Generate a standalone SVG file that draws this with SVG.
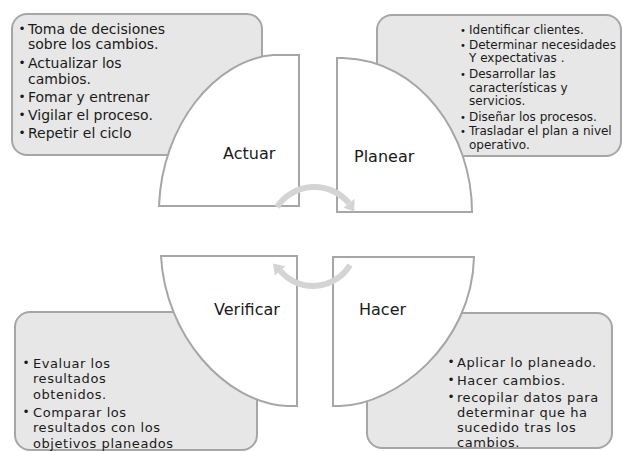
<svg xmlns="http://www.w3.org/2000/svg" width="623" height="451" viewBox="0 0 623 451">
<style>
.box{fill:#e7e7e7;stroke:#a6a6a6;stroke-width:2}
.quad{fill:#ffffff;stroke:#a6a6a6;stroke-width:2;stroke-linejoin:miter}
.t14{font-family:"DejaVu Sans",Verdana,sans-serif;font-size:14px;fill:#1a1a1a}
.t13{font-family:"DejaVu Sans",Verdana,sans-serif;font-size:13px;letter-spacing:0.55px;fill:#1a1a1a}
.t12{font-family:"DejaVu Sans",Verdana,sans-serif;font-size:12px;fill:#1a1a1a}
.b{font-family:"DejaVu Sans",Verdana,sans-serif;font-size:12px;fill:#1a1a1a}
.bs{font-family:"DejaVu Sans",Verdana,sans-serif;font-size:10px;fill:#1a1a1a}
.lbl{font-family:"DejaVu Sans",Verdana,sans-serif;font-size:16px;fill:#1a1a1a}
.arc{fill:none;stroke:#d4d4d4;stroke-width:6}
.head{fill:#d4d4d4}
</style>
<rect width="623" height="451" fill="#ffffff"/>

<g id="actuar-box">
<rect class="box" x="12" y="14" width="250" height="141" rx="15"/>
<text class="b"><tspan x="18.5" y="32.5">•</tspan><tspan x="18.5" y="67">•</tspan><tspan x="18.5" y="101">•</tspan><tspan x="18.5" y="119">•</tspan><tspan x="18.5" y="137">•</tspan></text>
<text class="t14"><tspan x="28" y="33.5">Toma de decisiones</tspan><tspan x="28" y="49">sobre los cambios.</tspan><tspan x="28" y="68">Actualizar los</tspan><tspan x="28" y="83.5">cambios.</tspan><tspan x="28" y="102">Fomar y entrenar</tspan><tspan x="28" y="120">Vigilar el proceso.</tspan><tspan x="28" y="138">Repetir el ciclo</tspan></text>
</g>

<g id="planear-box">
<rect class="box" x="377" y="15" width="244" height="141" rx="15"/>
<text class="bs"><tspan x="460" y="33.5">•</tspan><tspan x="460" y="48.5">•</tspan><tspan x="460" y="77.5">•</tspan><tspan x="460" y="120.5">•</tspan><tspan x="460" y="134.5">•</tspan></text>
<text class="t12"><tspan x="469" y="34">Identificar clientes.</tspan><tspan x="469" y="49">Determinar necesidades</tspan><tspan x="469" y="62">Y expectativas .</tspan><tspan x="469" y="78">Desarrollar las</tspan><tspan x="469" y="92">características y</tspan><tspan x="469" y="105">servicios.</tspan><tspan x="469" y="121">Diseñar los procesos.</tspan><tspan x="469" y="135">Trasladar el plan a nivel</tspan><tspan x="469" y="149">operativo.</tspan></text>
</g>

<g id="verificar-box">
<rect class="box" x="15" y="312" width="242" height="138" rx="15"/>
<text class="b"><tspan x="22.5" y="366.5">•</tspan><tspan x="22.5" y="415.5">•</tspan></text>
<text class="t13"><tspan x="33" y="367.5">Evaluar los</tspan><tspan x="33" y="383">resultados</tspan><tspan x="33" y="398.5">obtenidos.</tspan><tspan x="33" y="416.5">Comparar los</tspan><tspan x="33" y="432">resultados con los</tspan><tspan x="33" y="447.5">objetivos planeados</tspan></text>
</g>

<g id="hacer-box">
<rect class="box" x="367" y="313" width="245" height="135" rx="15"/>
<text class="b"><tspan x="447.5" y="366">•</tspan><tspan x="447.5" y="384">•</tspan><tspan x="447.5" y="400.5">•</tspan></text>
<text class="t13"><tspan x="457" y="367">Aplicar lo planeado.</tspan><tspan x="457" y="385">Hacer cambios.</tspan><tspan x="457" y="401.5">recopilar datos para</tspan><tspan x="457" y="416.5">determinar que ha</tspan><tspan x="457" y="431.5">sucedido tras los</tspan><tspan x="457" y="446.5">cambios.</tspan></text>
</g>

<g id="actuar">
<path class="quad" d="M299,55 L273,55 C215,60 162,125 159,206 L299,206 Z"/>
<text class="lbl" x="223" y="159">Actuar</text>
</g>

<g id="planear">
<path class="quad" d="M337,58 L343,58 C420,60 472,135 472,212 L337,212 Z"/>
<text class="lbl" x="354" y="162">Planear</text>
</g>

<g id="verificar">
<path class="quad" d="M161,256 L297,256 L297,406 L287,406 C225,403 165,335 161,256 Z"/>
<text class="lbl" x="214" y="315">Verificar</text>
</g>

<g id="hacer">
<path class="quad" d="M333,257 L474,257 C472,345 395,405 340,406 L333,406 Z"/>
<text class="lbl" x="359" y="315">Hacer</text>
</g>

<g id="connectors">
<path class="arc" d="M277,207 A45,45 0 0 1 349,203.1"/>
<polygon class="head" points="354.6,198.8 343.6,207.8 354.2,211.5"/>
<path class="arc" d="M350,265 A43,43 0 0 1 280.1,270.6"/>
<polygon class="head" points="285.3,266.2 274.8,275.4 273,263.5"/>
</g>
</svg>
